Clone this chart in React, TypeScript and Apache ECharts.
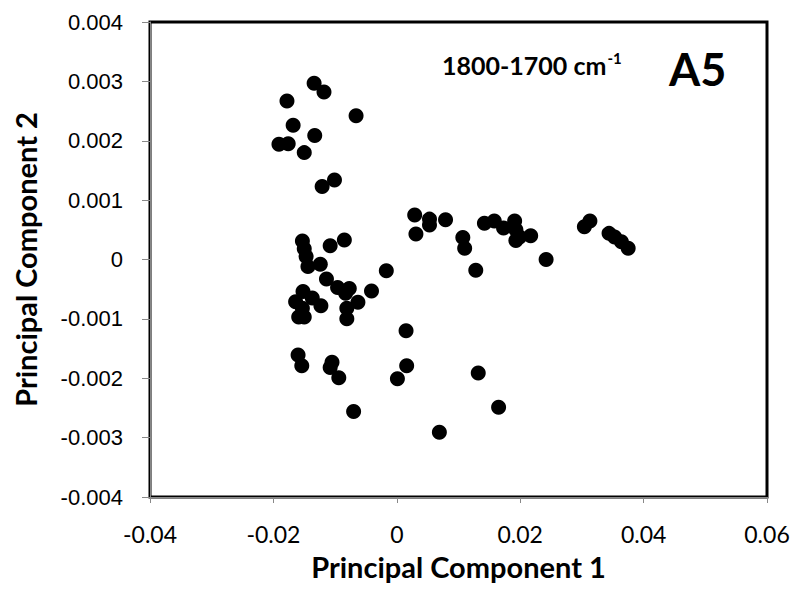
import React, { useEffect, useRef } from "react";
import * as echarts from "echarts";

const pc1: number[] = [
  -0.0134, -0.0118, -0.0178, -0.0066, -0.0168, -0.0133, -0.0191, -0.0176, -0.015, -0.0101,
  -0.0121, 0.0029, 0.0053, 0.0053, 0.0079, 0.0031, 0.0107, 0.011, -0.0153, -0.0108,
  -0.0085, -0.015, -0.0147, -0.0144, -0.0124, -0.0017, -0.0114, -0.0096, -0.0077, -0.0083,
  -0.0041, -0.0152, -0.0164, -0.0137, -0.0123, -0.0063, -0.0081, -0.0081, -0.0159, -0.015,
  -0.0153, 0.0015, -0.016, -0.0154, -0.0105, -0.0108, -0.0094, 0.0016, 0.0001, -0.007,
  0.0069, 0.0128, 0.0142, 0.0158, 0.0173, 0.0191, 0.0193, 0.0193, 0.0217, 0.0199,
  0.0242, 0.0304, 0.0313, 0.0344, 0.0353, 0.0364, 0.0375, 0.0132, 0.0165,
];
const pc2: number[] = [
  0.00297, 0.00282, 0.00267, 0.00242, 0.00226, 0.00209, 0.00194, 0.00195, 0.0018, 0.00134,
  0.00123, 0.00075, 0.00068, 0.00058, 0.00067, 0.00043, 0.00037, 0.00019, 0.00031, 0.00023,
  0.00033, 0.00018, 0.00005, -0.00012, -0.00008, -0.00019, -0.00033, -0.00047, -0.00049, -0.00057,
  -0.00053, -0.00054, -0.00071, -0.00065, -0.00078, -0.00072, -0.00082, -0.001, -0.00097, -0.00097,
  -0.00082, -0.0012, -0.00161, -0.00179, -0.00173, -0.00182, -0.00199, -0.00179, -0.00201, -0.00256,
  -0.00291, -0.00018, 0.00061, 0.00065, 0.00053, 0.00065, 0.0005, 0.00032, 0.0004, 0.00038,
  0.0, 0.00055, 0.00065, 0.00044, 0.00038, 0.0003, 0.00019, -0.00191, -0.00249,
];

const xTitle = "Principal Component 1";
const yTitle = "Principal Component 2";
const rangeLabel = "1800-1700 cm";
const panelLabel = "A5";

export default function App() {
  const ref = useRef<HTMLDivElement>(null);
  useEffect(() => {
    if (!ref.current) return;
    const chart = echarts.init(ref.current, null, { renderer: "svg" });
    const data = pc1.map((x, i) => [x, pc2[i]]);
    chart.setOption({
      animation: false,
      grid: {
        left: 150,
        right: 29,
        top: 22,
        bottom: 94,
        show: true,
        borderColor: "#000",
        borderWidth: 3,
        backgroundColor: "#fff",
      },
      xAxis: {
        type: "value",
        min: -0.04,
        max: 0.06,
        interval: 0.02,
        name: xTitle,
        nameLocation: "middle",
        nameGap: 55,
        nameTextStyle: { fontFamily: "Lato", fontWeight: "bold", fontSize: 29, color: "#000" },
        axisLine: { show: true, onZero: false, lineStyle: { color: "#888", width: 1 } },
        axisTick: { show: true, length: 6, lineStyle: { color: "#888" } },
        splitLine: { show: false },
        axisLabel: {
          margin: 25,
          fontFamily: "Lato",
          fontSize: 23,
          color: "#000",
          formatter: (v: number) => String(Number(v.toFixed(2))),
        },
      },
      yAxis: {
        type: "value",
        min: -0.004,
        max: 0.004,
        interval: 0.001,
        name: yTitle,
        nameLocation: "middle",
        nameGap: 110,
        nameRotate: 90,
        nameTextStyle: { fontFamily: "Lato", fontWeight: "bold", fontSize: 29, color: "#000" },
        axisLine: { show: true, onZero: false, lineStyle: { color: "#888", width: 1 } },
        axisTick: { show: true, length: 8, lineStyle: { color: "#888" } },
        splitLine: { show: false },
        axisLabel: {
          margin: 27,
          fontFamily: "Liberation Sans",
          fontSize: 22,
          color: "#000",
          formatter: (v: number) => String(Number(v.toFixed(3))),
        },
      },
      graphic: [
        {
          type: "text",
          left: 442,
          top: 50,
          style: {
            text: "{a|" + rangeLabel + "}{s|-1}",
            rich: {
              a: { fontFamily: "Lato", fontWeight: "bold", fontSize: 25, fill: "#000", lineHeight: 30 },
              s: { fontFamily: "Lato", fontWeight: "bold", fontSize: 15, fill: "#000", verticalAlign: "top", lineHeight: 30, padding: [0, 0, 12, 1] },
            },
          },
        },
        {
          type: "text",
          left: 669,
          top: 46,
          style: { text: panelLabel, fontFamily: "Lato", fontWeight: "bold", fontSize: 45, fill: "#000" },
        },
      ],
      series: [
        {
          type: "scatter",
          data,
          symbol: "circle",
          symbolSize: 15,
          itemStyle: { color: "#000", opacity: 1 },
        },
      ],
    });
    return () => chart.dispose();
  }, []);
  return <div ref={ref} style={{ width: 796, height: 591, position: "absolute", left: 0, top: 0 }} />;
}
